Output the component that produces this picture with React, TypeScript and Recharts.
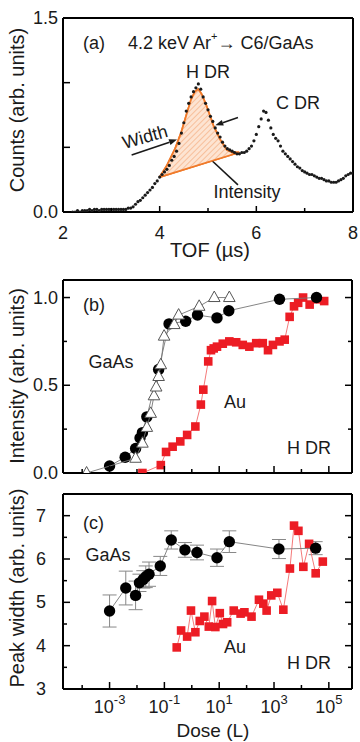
import { ComposedChart, Scatter, Line, XAxis, YAxis, ReferenceLine, ErrorBar } from 'recharts';

const FONT = '"Liberation Sans", Arial, Helvetica, sans-serif';
const INK = '#1a1a1a';

// (a) TOF spectrum, 4.2 keV Ar+ -> C6/GaAs
const tof = [
  2.2, 2.25, 2.3, 2.35, 2.4, 2.45, 2.5, 2.55, 2.6, 2.65, 2.7, 2.75, 2.8, 2.85, 2.9, 2.95,
  3.0, 3.05, 3.1, 3.15, 3.2, 3.25, 3.3, 3.35, 3.4, 3.45, 3.5, 3.55, 3.6, 3.65, 3.7, 3.75,
  3.8, 3.85, 3.9, 3.95, 4.0, 4.05, 4.1, 4.15, 4.2, 4.25, 4.3, 4.35, 4.4, 4.45, 4.5, 4.55,
  4.6, 4.65, 4.7, 4.75, 4.8, 4.85, 4.9, 4.95, 5.0, 5.05, 5.1, 5.15, 5.2, 5.25, 5.3, 5.35,
  5.4, 5.45, 5.5, 5.55, 5.6, 5.65, 5.7, 5.75, 5.8, 5.85, 5.9, 5.95, 6.0, 6.05, 6.1, 6.15,
  6.2, 6.25, 6.3, 6.35, 6.4, 6.45, 6.5, 6.55, 6.6, 6.65, 6.7, 6.75, 6.8, 6.85, 6.9, 6.95,
  7.0, 7.05, 7.1, 7.15, 7.2, 7.25, 7.3, 7.35, 7.4, 7.45, 7.5, 7.55, 7.6, 7.65, 7.7, 7.75,
  7.8, 7.85, 7.9, 7.95, 8.0,
];
const counts = [
  0.0, 0.0, 0.01, 0.0, 0.01, 0.01, 0.01, 0.02, 0.01, 0.02, 0.02, 0.01, 0.02, 0.02, 0.02, 0.02,
  0.02, 0.02, 0.02, 0.02, 0.02, 0.02, 0.02, 0.03, 0.03, 0.04, 0.06, 0.08, 0.09, 0.11, 0.13, 0.15,
  0.17, 0.19, 0.22, 0.24, 0.27, 0.29, 0.31, 0.33, 0.36, 0.4, 0.43, 0.47, 0.53, 0.61, 0.69, 0.78,
  0.84, 0.89, 0.93, 0.96, 0.99, 0.95, 0.89, 0.84, 0.79, 0.74, 0.7, 0.65, 0.61, 0.58, 0.54, 0.51,
  0.49, 0.48, 0.47, 0.46, 0.45, 0.45, 0.46, 0.46, 0.47, 0.49, 0.51, 0.55, 0.6, 0.66, 0.72, 0.78,
  0.77, 0.71, 0.65, 0.6, 0.57, 0.55, 0.51, 0.47, 0.45, 0.43, 0.41, 0.39, 0.37, 0.35, 0.34, 0.32,
  0.31, 0.3, 0.29, 0.29, 0.28, 0.27, 0.26, 0.26, 0.25, 0.24, 0.24, 0.23, 0.23, 0.23, 0.24, 0.25,
  0.26, 0.28, 0.29, 0.3, 0.3,
];
// outline of the shaded H DR peak (closed)
const hdrX = [4.0, 4.15, 4.32, 4.45, 4.56, 4.65, 4.73, 4.8, 4.87, 4.97, 5.11, 5.25, 5.39, 5.5, 5.64, 4.0];
const hdrY = [0.27, 0.36, 0.49, 0.62, 0.76, 0.87, 0.93, 0.95, 0.91, 0.82, 0.67, 0.56, 0.48, 0.46, 0.46, 0.27];

// (b) H DR intensity vs dose
const gaasDoseB = [0.001, 0.0037, 0.0089, 0.0129, 0.0158, 0.0229, 0.0617, 0.148, 0.6, 1.62, 8.3, 22.4, 1585, 35500];
const gaasIntB = [0.04, 0.09, 0.14, 0.2, 0.23, 0.32, 0.59, 0.85, 0.865, 0.9, 0.884, 0.925, 0.99, 1.0];
const gaasTriDoseB = [1.45e-4, 0.0089, 0.0158, 0.0229, 0.0316, 0.0417, 0.0501, 0.0617, 0.0741, 0.0977, 0.229, 0.331, 1.86, 6.6, 23.4];
const gaasTriIntB = [0.0, 0.084, 0.17, 0.26, 0.34, 0.44, 0.49, 0.55, 0.617, 0.78, 0.846, 0.9, 0.95, 1.0, 1.0];
const auDoseB = [
  0.0158, 0.0741, 0.115, 0.2, 0.38, 0.676, 1.35, 2.14, 2.63, 3.98, 5.01, 6.31, 8.3, 13.5, 23.4, 41.7,
  72.4, 126, 224, 389, 603, 912, 1585, 2455, 3715, 5370, 7590, 11480, 19950, 35480, 67600,
];
const auIntB = [
  0.0, 0.045, 0.12, 0.15, 0.18, 0.217, 0.265, 0.39, 0.475, 0.636, 0.7, 0.71, 0.72, 0.737, 0.75, 0.745,
  0.73, 0.72, 0.74, 0.74, 0.7, 0.73, 0.75, 0.76, 0.89, 0.95, 0.97, 1.0, 0.96, 0.99, 0.98,
];

// (c) H DR peak width vs dose
const gaasDoseC = [0.001, 0.0039, 0.0089, 0.0123, 0.017, 0.0209, 0.0275, 0.0708, 0.178, 0.562, 1.55, 8.3, 23.4, 1514, 33100];
const gaasWidthC = [4.8, 5.33, 5.16, 5.45, 5.53, 5.59, 5.65, 5.84, 6.44, 6.21, 6.15, 6.03, 6.4, 6.23, 6.25];
const gaasErrC = [0.37, 0.39, 0.33, 0.2, 0.2, 0.25, 0.28, 0.22, 0.21, 0.17, 0.17, 0.2, 0.25, 0.22, 0.15];
const auDoseC = [
  0.282, 0.407, 0.676, 0.933, 1.35, 1.95, 2.88, 4.17, 5.5, 7.24, 10.5, 13.8, 19.5, 33.9, 60.3,
  83.2, 151, 282, 407, 537, 794, 1318, 2188, 3802, 5370, 7762, 11750, 19050, 33110, 60260,
];
const auWidthC = [
  3.96, 4.35, 4.21, 4.81, 4.31, 4.57, 4.67, 4.44, 5.03, 4.43, 4.75, 4.5, 4.54, 4.81, 4.74,
  4.77, 4.67, 5.06, 4.97, 4.81, 5.16, 5.22, 4.83, 5.78, 6.77, 6.65, 5.82, 6.35, 5.67, 5.94,
];

const tofTicks = [2, 3, 4, 5, 6, 7, 8];
const tofLabels = [2, 4, 6, 8];
const countTicks = [0, 0.5, 1, 1.5];
const countLabels = [0, 1.5];
const doseTicks = [1e-4, 1e-3, 1e-2, 1e-1, 1, 10, 100, 1e3, 1e4, 1e5];
const intTicks = [0, 0.25, 0.5, 0.75, 1];
const intLabels = [0, 0.5, 1];
const widthTicks = [3, 3.5, 4, 4.5, 5, 5.5, 6, 6.5, 7];
const widthLabels = [3, 4, 5, 6, 7];

const zip = (xs: number[], ys: number[]) => xs.map((x, i) => ({ x, y: ys[i] }));

const frame = { stroke: '#000', strokeWidth: 2 };
const txt = { fontFamily: FONT, fill: INK };

const LeftTick = (p: any) => {
  const v = p.payload.value;
  const lab = p.labels.includes(v);
  return (
    <g>
      <line x1={p.x} y1={p.y} x2={p.x + (lab ? 7 : 4)} y2={p.y} stroke="#000" strokeWidth={1.5} />
      {lab && (
        <text x={p.x - p.gap} y={p.y} textAnchor="end" dominantBaseline="central" fontSize={18} {...txt}>
          {p.fmt(v)}
        </text>
      )}
    </g>
  );
};

const RightTick = (p: any) => {
  const lab = p.labels.includes(p.payload.value);
  return <line x1={p.x} y1={p.y} x2={p.x - (lab ? 7 : 4)} y2={p.y} stroke="#000" strokeWidth={1.5} />;
};

const LinBottomTick = (p: any) => {
  const v = p.payload.value;
  const lab = tofLabels.includes(v);
  return (
    <g>
      <line x1={p.x} y1={p.y} x2={p.x} y2={p.y - (lab ? 6 : 4)} stroke="#000" strokeWidth={1.5} />
      {lab && (
        <text x={p.x} y={p.y + 21} textAnchor="middle" dominantBaseline="central" fontSize={18} {...txt}>
          {v}
        </text>
      )}
    </g>
  );
};

const LinTopTick = (p: any) => {
  const lab = tofLabels.includes(p.payload.value);
  return <line x1={p.x} y1={p.y} x2={p.x} y2={p.y + (lab ? 6 : 4)} stroke="#000" strokeWidth={1.5} />;
};

const LogTick = (p: any) => {
  const e = Math.round(Math.log10(p.payload.value));
  const major = Math.abs(e) % 2 === 1;
  const dir = p.side === 'top' ? 1 : -1;
  return (
    <g>
      <line x1={p.x} y1={p.y} x2={p.x} y2={p.y + dir * (major ? 7 : 4)} stroke="#000" strokeWidth={1.5} />
      {p.labelled && major && (
        <text x={p.x} y={p.y + 24} textAnchor="middle" {...txt}>
          <tspan fontSize={18}>10</tspan>
          <tspan fontSize={13} dy={-9}>{e}</tspan>
        </text>
      )}
    </g>
  );
};

const Arrow = (p: any) => {
  const { x1, y1, x2, y2 } = p;
  const a = Math.atan2(y2 - y1, x2 - x1);
  const L = 8;
  const W = 3;
  const bx = x2 - L * Math.cos(a);
  const by = y2 - L * Math.sin(a);
  const nx = -Math.sin(a) * W;
  const ny = Math.cos(a) * W;
  return (
    <g>
      <line x1={x1} y1={y1} x2={bx} y2={by} stroke={INK} strokeWidth={1.6} />
      <polygon points={`${x2},${y2} ${bx + nx},${by + ny} ${bx - nx},${by - ny}`} fill={INK} />
    </g>
  );
};

const HatchFill = (p: any) => {
  if (p.index !== 0 || !p.points) return <g />;
  const d = p.points.map((pt: any, i: number) => `${i ? 'L' : 'M'}${pt.x},${pt.y}`).join(' ') + ' Z';
  return <path d={d} fill="url(#hatch)" stroke="#f07a2a" strokeWidth={1.8} strokeLinejoin="round" />;
};

const specDot = (p: any) => <circle cx={p.cx} cy={p.cy} r={1.6} fill={INK} />;
const circleDot = (p: any) => <circle cx={p.cx} cy={p.cy} r={5.7} fill="#000" />;
const squareDot = (p: any) => <rect x={p.cx - 4.3} y={p.cy - 4.3} width={8.6} height={8.6} fill="#ec1c24" />;
const triDot = (p: any) => (
  <polygon
    points={`${p.cx},${p.cy - 6.5} ${p.cx - 5.8},${p.cy + 4} ${p.cx + 5.8},${p.cy + 4}`}
    fill="#fff"
    stroke="#555"
    strokeWidth={1}
  />
);

const yTitle = (cy: number, label: string) => (
  <text x={17} y={cy} transform={`rotate(-90 17 ${cy})`} textAnchor="middle" dominantBaseline="central" fontSize={20} {...txt}>
    {label}
  </text>
);

// axes are 1px thick so that Recharts still draws them; ticks are drawn inward by the tick renderers
const logAxes = (yDomain: number[], yTicks: number[], yLabels: number[], gap: number, fmt: (v: number) => string, labelled: boolean) => [
  <XAxis key="xb" type="number" dataKey="x" scale="log" domain={[2e-5, 7e5]} allowDataOverflow ticks={doseTicks} interval={0}
    height={1} tickSize={0} tickMargin={0} tickLine={false} axisLine={frame} tick={<LogTick side="bottom" labelled={labelled} />} />,
  <XAxis key="xt" xAxisId="top" orientation="top" type="number" scale="log" domain={[2e-5, 7e5]} allowDataOverflow ticks={doseTicks}
    interval={0} height={1} tickSize={0} tickMargin={0} tickLine={false} axisLine={frame} tick={<LogTick side="top" />} />,
  <YAxis key="yl" type="number" dataKey="y" domain={yDomain} allowDataOverflow ticks={yTicks} interval={0} width={1}
    tickSize={0} tickMargin={0} tickLine={false} axisLine={frame} tick={<LeftTick labels={yLabels} gap={gap} fmt={fmt} />} />,
  <YAxis key="yr" yAxisId="right" orientation="right" type="number" domain={yDomain} allowDataOverflow ticks={yTicks} interval={0}
    width={1} tickSize={0} tickMargin={0} tickLine={false} axisLine={frame} tick={<RightTick labels={yLabels} />} />,
];

const PanelA = () => (
  <ComposedChart width={360} height={262} margin={{ top: 17, right: 6, bottom: 49, left: 62 }}>
    <defs>
      <pattern id="hatch" width={4} height={4} patternUnits="userSpaceOnUse" patternTransform="rotate(45)">
        <rect width={4} height={4} fill="#fde4d2" />
        <line x1={0} y1={0} x2={0} y2={4} stroke="#f2a06e" strokeWidth={1.1} />
      </pattern>
    </defs>
    <XAxis type="number" dataKey="x" domain={[2, 8]} allowDataOverflow ticks={tofTicks} interval={0} height={1}
      tickSize={0} tickMargin={0} tickLine={false} axisLine={frame} tick={<LinBottomTick />} />
    <XAxis xAxisId="top" orientation="top" type="number" domain={[2, 8]} ticks={tofTicks} interval={0} height={1}
      tickSize={0} tickMargin={0} tickLine={false} axisLine={frame} tick={<LinTopTick />} />
    <YAxis type="number" dataKey="y" domain={[0, 1.5]} allowDataOverflow ticks={countTicks} interval={0} width={1}
      tickSize={0} tickMargin={0} tickLine={false} axisLine={frame}
      tick={<LeftTick labels={[0, 0.5, 1, 1.5]} gap={5} fmt={(v: number) => (countLabels.includes(v) ? v.toFixed(1) : '')} />} />
    <YAxis yAxisId="right" orientation="right" type="number" domain={[0, 1.5]} ticks={countTicks} interval={0} width={1}
      tickSize={0} tickMargin={0} tickLine={false} axisLine={frame} tick={<RightTick labels={[0, 0.5, 1, 1.5]} />} />
    <Line data={zip(hdrX, hdrY)} dataKey="y" stroke="#f07a2a" strokeWidth={1.8} dot={HatchFill} isAnimationActive={false} />
    <Scatter data={zip(tof, counts)} shape={specDot} isAnimationActive={false} />
    <ReferenceLine segment={[{ x: 3.42, y: 0.44 }, { x: 4.36, y: 0.56 }]} shape={Arrow} ifOverflow="visible" />
    <ReferenceLine segment={[{ x: 5.62, y: 0.73 }, { x: 5.15, y: 0.67 }]} shape={Arrow} ifOverflow="visible" />
    <ReferenceLine segment={[{ x: 5.62, y: 0.21 }, { x: 4.93, y: 0.45 }]} shape={Arrow} ifOverflow="visible" />
    {yTitle(110, 'Counts (arb. units)')}
    <text x={210} y={257} textAnchor="middle" fontSize={20} {...txt}>TOF (µs)</text>
    <text x={83} y={43} dominantBaseline="central" fontSize={18} {...txt}>(a)</text>
    <text x={128} y={43} dominantBaseline="central" fontSize={18} {...txt}>
      4.2 keV Ar<tspan fontSize={11} dy={-7}>+</tspan><tspan dy={7}>→ C6/GaAs</tspan>
    </text>
    <text x={208} y={72} textAnchor="middle" dominantBaseline="central" fontSize={18} {...txt}>H DR</text>
    <text x={298} y={103} textAnchor="middle" dominantBaseline="central" fontSize={18} {...txt}>C DR</text>
    <text x={145} y={137} transform="rotate(-16 145 137)" textAnchor="middle" dominantBaseline="central" fontSize={18} {...txt}>Width</text>
    <text x={247} y={192} textAnchor="middle" dominantBaseline="central" fontSize={18} {...txt}>Intensity</text>
  </ComposedChart>
);

const PanelB = () => (
  <ComposedChart width={360} height={220} margin={{ top: 17, right: 7, bottom: 8, left: 62 }}>
    {logAxes([0, 1.1], intTicks, intLabels, 5, (v) => v.toFixed(1), false)}
    <Scatter data={zip(auDoseB, auIntB)} line={{ stroke: '#f36a6a', strokeWidth: 0.9 }} shape={squareDot} isAnimationActive={false} />
    <Scatter data={zip(gaasDoseB, gaasIntB)} line={{ stroke: '#777', strokeWidth: 0.9 }} shape={circleDot} isAnimationActive={false} />
    <Scatter data={zip(gaasTriDoseB, gaasTriIntB)} line={{ stroke: '#777', strokeWidth: 0.9 }} shape={triDot} isAnimationActive={false} />
    {yTitle(114, 'Intensity (arb. units)')}
    <text x={83} y={43} dominantBaseline="central" fontSize={18} {...txt}>(b)</text>
    <text x={111} y={100} textAnchor="middle" dominantBaseline="central" fontSize={18} {...txt}>GaAs</text>
    <text x={235} y={140} textAnchor="middle" dominantBaseline="central" fontSize={18} {...txt}>Au</text>
    <text x={309} y={186} textAnchor="middle" dominantBaseline="central" fontSize={18} {...txt}>H DR</text>
  </ComposedChart>
);

const PanelC = () => (
  <ComposedChart width={360} height={260} margin={{ top: 11, right: 7, bottom: 52, left: 62 }}>
    {logAxes([3, 7.5], widthTicks, widthLabels, 17, (v) => String(v), true)}
    <Scatter data={zip(auDoseC, auWidthC)} line={{ stroke: '#f36a6a', strokeWidth: 0.9 }} shape={squareDot} isAnimationActive={false} />
    <Scatter data={gaasDoseC.map((x, i) => ({ x, y: gaasWidthC[i], err: gaasErrC[i] }))} line={{ stroke: '#777', strokeWidth: 0.9 }}
      shape={circleDot} isAnimationActive={false}>
      <ErrorBar dataKey="err" direction="y" width={7} stroke="#888" strokeWidth={1} />
    </Scatter>
    {yTitle(106, 'Peak width (arb. units)')}
    <text x={213} y={255} textAnchor="middle" fontSize={19} {...txt}>Dose (L)</text>
    <text x={83} y={41} dominantBaseline="central" fontSize={18} {...txt}>(c)</text>
    <text x={108} y={73} textAnchor="middle" dominantBaseline="central" fontSize={18} {...txt}>GaAs</text>
    <text x={235} y={165} textAnchor="middle" dominantBaseline="central" fontSize={18} {...txt}>Au</text>
    <text x={309} y={181} textAnchor="middle" dominantBaseline="central" fontSize={18} {...txt}>H DR</text>
  </ComposedChart>
);

export default function App() {
  return (
    <div style={{ position: 'absolute', left: 0, top: 0, width: 360, height: 742, background: '#fff', fontFamily: FONT }}>
      <div style={{ position: 'absolute', left: 0, top: 0 }}><PanelA /></div>
      <div style={{ position: 'absolute', left: 0, top: 262 }}><PanelB /></div>
      <div style={{ position: 'absolute', left: 0, top: 482 }}><PanelC /></div>
    </div>
  );
}
